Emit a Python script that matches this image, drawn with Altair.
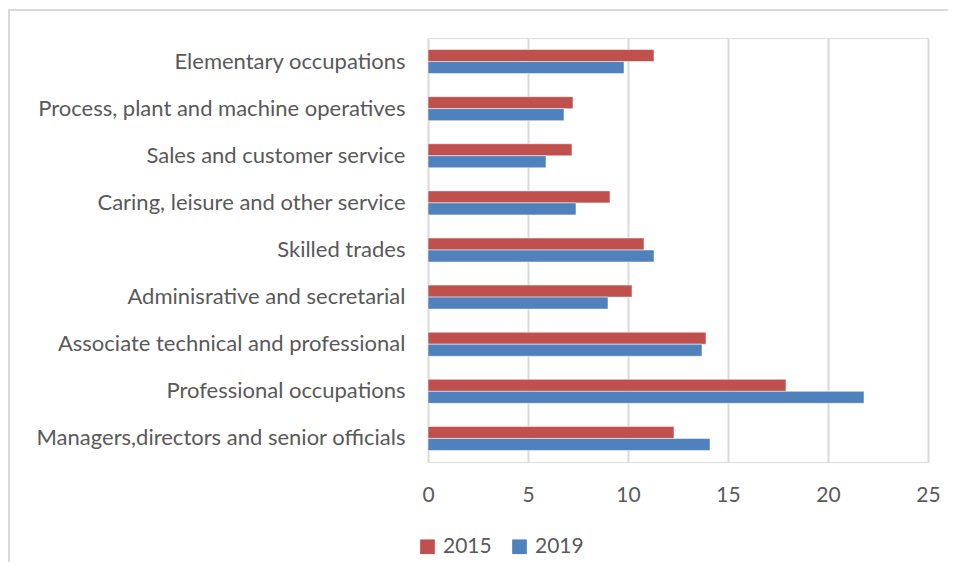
import altair as alt
import pandas as pd

categories = [
    "Elementary occupations",
    "Process, plant and machine operatives",
    "Sales and customer service",
    "Caring, leisure and other service",
    "Skilled trades",
    "Adminisrative and secretarial",
    "Associate technical and professional",
    "Professional occupations",
    "Managers,directors and senior officials",
]
values_2015 = [11.3, 7.25, 7.2, 9.1, 10.8, 10.2, 13.9, 17.9, 12.3]
values_2019 = [9.8, 6.8, 5.9, 7.4, 11.3, 9.0, 13.7, 21.8, 14.1]
years = ["2015", "2019"]
colors = ["#C0504D", "#4F81BD"]
x_ticks = [0, 5, 10, 15, 20, 25]

rows = []
for c, a, b in zip(categories, values_2015, values_2019):
    rows.append({"cat": c, "year": "2015", "value": a})
    rows.append({"cat": c, "year": "2019", "value": b})
df = pd.DataFrame(rows)

FONT = "Lato"
TXT = "#595959"

bars = alt.Chart(df).mark_bar(strokeWidth=1, strokeOpacity=0.5, stroke="white").encode(
    y=alt.Y("cat:N", sort=categories,
            scale=alt.Scale(paddingInner=0.49, paddingOuter=0.245),
            axis=alt.Axis(title=None, ticks=False, domain=False, labelPadding=23,
                          labelFontSize=22, labelColor=TXT, labelFont=FONT,
                          labelLimit=600)),
    yOffset=alt.YOffset("year:N", sort=years, scale=alt.Scale(paddingInner=0, paddingOuter=0)),
    x=alt.X("value:Q", scale=alt.Scale(domain=[0, 25], nice=False),
            axis=alt.Axis(title=None, values=x_ticks, ticks=False, domain=False,
                          grid=True, gridColor="#d9d9d9", gridWidth=2,
                          labelFontSize=21, labelColor=TXT, labelFont=FONT,
                          labelFlush=False, labelPadding=22)),
    color=alt.Color("year:N", sort=years,
                    scale=alt.Scale(domain=years, range=colors),
                    legend=alt.Legend(title=None, orient="none", direction="horizontal",
                                      legendX=-11, legendY=498,
                                      symbolType="square", symbolSize=215,
                                      symbolStrokeWidth=0,
                                      labelFontSize=21, labelColor=TXT,
                                      labelFont=FONT, columnPadding=17, labelOffset=5)),
)

frame = alt.Chart(df).mark_rect(filled=False, stroke="#d9d9d9", strokeWidth=2).encode(
    x=alt.value(-419), x2=alt.value(560), y=alt.value(-28), y2=alt.value(600)
)

chart = alt.layer(frame, bars).properties(
    width=500, height=424,
    autosize=alt.AutoSizeParams(type="none"),
    padding={"left": 420, "top": 30, "right": 20, "bottom": 100},
).configure_view(stroke=None).configure(background="white")

chart.save("out.html", embed_options={"renderer": "svg", "actions": False})
